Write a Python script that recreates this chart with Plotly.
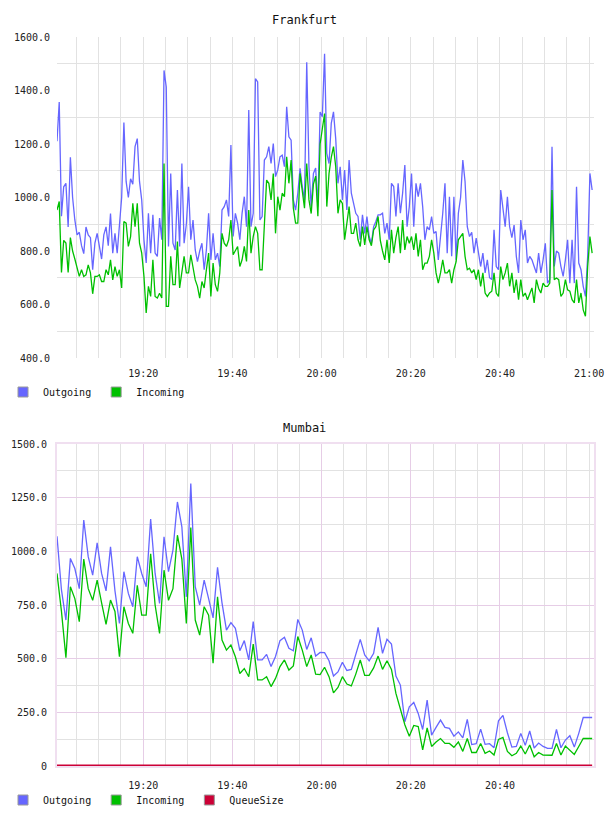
import pandas as pd
import plotly.graph_objects as go

# ---------------- Frankfurt (30 s samples from 19:00:40) ----------------
fr_outgoing = [
    1210, 1357, 930, 1040, 1053, 890, 1150, 1000, 916, 860,
    870, 820, 790, 890, 860, 850, 730, 830, 866, 820,
    770, 860, 890, 820, 940, 792, 866, 792, 900, 1000,
    1280, 1060, 1000, 1070, 1050, 1190, 1220, 1060, 990, 842,
    755, 941, 792, 935, 792, 780, 923, 842, 1475, 1413,
    817, 1090, 829, 804, 1028, 817, 1127, 829, 900, 1040,
    842, 916, 804,
    760, 800, 829, 730, 804, 941, 767, 866, 767, 792,
    742, 953, 966, 991, 929, 1196, 854, 941, 904, 842,
    941, 1003, 891, 1327, 891, 941, 1444, 1432, 916, 929,
    1140, 1152, 1190, 1127, 1202, 1078, 1103, 1152, 1158, 1115,
    1339, 1227, 1214, 991, 953, 1016, 1109, 1041, 991, 1506,
    1115, 966, 1090, 1110, 966, 1320, 1302, 1537, 1165, 1127,
    1277, 1320, 1220, 1053, 1115, 991, 1103, 953, 1140, 1016,
    978, 941, 929, 842, 935, 866, 929, 854, 829, 891,
    910, 935, 935, 941, 866, 904, 842, 1053, 1041, 929,
    1053, 941, 1016, 1121, 891, 966, 1090, 891, 1053, 1003,
    1053, 966, 842, 891, 879, 929, 866, 873, 767, 842,
    941, 1053, 792, 1003, 780, 1003, 767, 941, 1000, 1140,
    1060,
    891, 854, 870, 792, 848, 790, 742, 792, 718, 767,
    700, 693, 879, 742, 730, 1028, 953, 891, 1003, 891,
    850, 897, 780, 718, 916, 842, 879, 755, 780, 767,
    742, 718, 792, 718, 767, 829, 680, 693, 1190, 742,
    800, 792, 742, 705, 767, 842, 680, 842, 680, 1040,
    755, 730, 668, 630, 780, 1090, 1028,
]
fr_incoming = [
    953, 985, 720, 840, 830, 720, 850, 800, 770, 742,
    705, 730, 705, 711, 748, 718, 640, 705, 705, 711,
    686, 686, 730, 711, 767, 692, 742, 705, 730, 662,
    910, 904, 817, 854, 978, 891, 978, 829, 792, 705,
    568, 668, 630, 767, 630, 624, 642, 624, 1127, 593,
    593, 780, 674, 674, 835, 662, 730, 780, 718, 718,
    786, 740, 692,
    668, 624, 686, 662, 730, 792, 630, 755, 674, 649,
    718, 866, 829, 817, 842, 916, 786, 804, 817, 742,
    767, 817, 761, 953, 792, 854, 891, 866, 730, 730,
    879, 1065, 1053, 991, 1090, 866, 1003, 953, 1016, 1003,
    1152, 1053, 1140, 960, 904, 904, 1090, 1016, 960, 1127,
    991, 940, 1050, 1080, 930, 1200, 1252, 1314, 966, 1090,
    1150, 1190, 1115, 941, 991, 978, 842, 900, 966, 866,
    866, 904, 842, 817, 891, 823, 891, 842, 820, 879,
    891, 929, 840, 800, 767, 842, 755, 879, 792, 850,
    891, 792, 916, 804, 854, 829, 854, 804, 866, 780,
    842, 730, 755, 755, 780, 842, 792, 718, 680, 718,
    767, 718, 718, 730, 680, 730, 760, 842, 855, 866,
    780,
    730, 736, 718, 730, 693, 730, 668, 718, 643, 630,
    643, 650, 718, 643, 630, 742, 693, 718, 755, 668,
    718, 643, 693, 618, 693, 630, 643, 618, 643, 662,
    606, 693, 660, 643, 680, 668, 668, 680, 1028, 693,
    699, 693, 630, 643, 693, 655, 650, 618, 606, 693,
    606, 643, 580, 556, 742, 854, 792,
]

# ---------------- Mumbai (1 min samples from 19:00:40) ----------------
mu_outgoing = [
    1070, 820, 680, 967, 920, 826, 1146, 975, 889, 1039,
    897, 816, 1021, 816, 664, 905, 804, 742, 975, 897,
    835, 1150, 897, 757, 1068, 905, 1006, 1230, 1114, 788,
    1316, 835, 750, 866, 780, 690, 925, 760, 633, 668,
    641, 537, 584, 494, 673, 494, 494, 520, 463, 510,
    584, 600, 548, 537, 683, 633, 543, 597, 512, 529,
    528, 490, 419, 438, 483, 445, 450, 517, 590, 517,
    490, 525, 646, 525, 590, 568, 419, 377, 206, 276,
    296, 245, 170, 307, 144, 180, 214, 180, 175, 139,
    159, 131, 217, 100, 104, 172, 101, 104, 85, 211,
    236, 155, 88, 91, 152, 96, 163, 84, 107, 91,
    82, 82, 170, 85, 121, 141, 88, 152, 226, 226, 226,
]
mu_incoming = [
    897, 720, 505, 835, 780, 672, 964, 826, 772, 866,
    760, 660, 773, 720, 509, 742, 664, 618, 842, 703,
    703, 989, 750, 618, 912, 772, 826, 1075, 964, 664,
    1111, 680, 610, 742, 703, 479, 788, 587, 540, 564,
    509, 431, 454, 416, 568, 401, 401, 416, 370, 408,
    463, 494, 447, 466, 603, 540, 463, 517, 428, 426,
    460, 416, 341, 366, 416, 382, 373, 428, 494, 422,
    422, 457, 512, 450, 490, 450, 338, 261, 192, 139,
    189, 184, 75, 177, 91, 112, 128, 105, 105, 87,
    112, 68, 128, 63, 63, 105, 59, 70, 51, 124,
    133, 68, 48, 59, 93, 56, 98, 43, 63, 51,
    50, 50, 105, 51, 93, 75, 54, 91, 128, 128, 128,
]
mu_queuesize = [
    4, 3, 3, 4, 3, 3, 3, 4, 3, 3,
    3, 4, 3, 3, 3, 3, 4, 3, 3, 3,
    4, 3, 3, 3, 3, 3, 4, 3, 3, 4,
    3, 3, 3, 4, 3, 3, 3, 3, 5, 3,
    3, 3, 3, 4, 3, 3, 3, 3, 3, 4,
    3, 3, 3, 3, 3, 4, 3, 3, 3, 3,
    3, 3, 3, 3, 3, 4, 3, 3, 3, 4,
    3, 3, 3, 3, 3, 4, 3, 3, 3, 3,
    3, 3, 3, 3, 3, 4, 3, 3, 3, 3,
    3, 3, 3, 3, 4, 3, 3, 3, 3, 3,
    3, 3, 3, 3, 3, 3, 3, 3, 3, 3,
    3, 3, 3, 3, 3, 3, 3, 3, 3, 3, 3,
]

fr_ticks = ["19:20", "19:40", "20:00", "20:20", "20:40", "21:00"]
mu_ticks = ["19:20", "19:40", "20:00", "20:20", "20:40"]
fr_yticks = [400, 600, 800, 1000, 1200, 1400, 1600]
mu_yticks = [0, 250, 500, 750, 1000, 1250, 1500]

DAY = "2024-01-01 "
fr_time = pd.date_range(DAY + "19:00:40", periods=len(fr_outgoing), freq="30s")
mu_time = pd.date_range(DAY + "19:00:40", periods=len(mu_outgoing), freq="60s")
x_range = [DAY + "19:00:40", DAY + "21:01:05"]

C_OUT = "#6666ff"
C_IN = "#00c000"
C_Q = "#cc0036"
MONO = "DejaVu Sans Mono"
GRID = "#e2e2e2"
PINK = "#e6cde6"
W, H = 608, 816

fig = go.Figure()
fig.add_trace(go.Scatter(x=fr_time, y=fr_outgoing, mode="lines", name="Outgoing",
                         line=dict(color=C_OUT, width=1.3), showlegend=False,
                         xaxis="x", yaxis="y"))
fig.add_trace(go.Scatter(x=fr_time, y=fr_incoming, mode="lines", name="Incoming",
                         line=dict(color=C_IN, width=1.3), showlegend=False,
                         xaxis="x", yaxis="y"))
fig.add_trace(go.Scatter(x=mu_time, y=mu_outgoing, mode="lines", name="Outgoing",
                         line=dict(color=C_OUT, width=1.3), showlegend=False,
                         xaxis="x2", yaxis="y2"))
fig.add_trace(go.Scatter(x=mu_time, y=mu_incoming, mode="lines", name="Incoming",
                         line=dict(color=C_IN, width=1.3), showlegend=False,
                         xaxis="x2", yaxis="y2"))
fig.add_trace(go.Scatter(x=mu_time, y=mu_queuesize, mode="lines", name="QueueSize",
                         line=dict(color=C_Q, width=1.5), showlegend=False,
                         xaxis="x2", yaxis="y2"))

# legend entries (square swatches)
for name, col, leg, xa, ya in [("Outgoing", C_OUT, "legend", "x", "y"),
                               ("Incoming", C_IN, "legend", "x", "y"),
                               ("Outgoing", C_OUT, "legend2", "x2", "y2"),
                               ("Incoming", C_IN, "legend2", "x2", "y2"),
                               ("QueueSize", C_Q, "legend2", "x2", "y2")]:
    fig.add_trace(go.Scatter(x=[None], y=[None], mode="markers", name=name,
                             marker=dict(symbol="square", size=10, color=col,
                                         line=dict(color="#9a9a9a", width=1)),
                             legend=leg, xaxis=xa, yaxis=ya, hoverinfo="skip"))

xdom = [57 / W, 594 / W]
tickfont = dict(family=MONO, size=10, color="#222")


def ydom(top, bottom):
    return [1 - bottom / H, 1 - top / H]


fig.update_layout(
    width=W, height=H,
    margin=dict(l=0, r=0, t=0, b=0, autoexpand=False),
    paper_bgcolor="white", plot_bgcolor="white",
    font=dict(family=MONO, size=10, color="#222"),
    xaxis=dict(domain=xdom, anchor="y", type="date", range=x_range,
               tickmode="array", tickvals=[DAY + t for t in fr_ticks], ticktext=fr_ticks,
               showgrid=True, gridcolor=GRID, gridwidth=1, zeroline=False,
               showline=False, ticks="", ticklabelstandoff=8, tickfont=tickfont,
               minor=dict(tick0=DAY + "19:00", dtick=300000, showgrid=True,
                          gridcolor=GRID, gridwidth=1)),
    yaxis=dict(domain=ydom(37, 358), anchor="x", range=[400, 1600],
               tickmode="array", tickvals=fr_yticks,
               ticktext=[f"{v:.1f}" for v in fr_yticks],
               showgrid=False, zeroline=False, showline=False, ticks="",
               ticklabelstandoff=6, tickfont=tickfont,
               minor=dict(tick0=500, dtick=200, showgrid=True, gridcolor=GRID,
                          gridwidth=1)),
    xaxis2=dict(domain=xdom, anchor="y2", type="date", range=x_range,
                tickmode="array", tickvals=[DAY + t for t in mu_ticks], ticktext=mu_ticks,
                showgrid=True, gridcolor=PINK, gridwidth=1, zeroline=False,
                showline=True, mirror=True, linecolor="#f0dff0", linewidth=2,
                ticks="", ticklabelstandoff=9, tickfont=tickfont,
                minor=dict(tick0=DAY + "19:00", dtick=300000, showgrid=True,
                           gridcolor=GRID, gridwidth=1)),
    yaxis2=dict(domain=ydom(444, 766), anchor="x2", range=[0, 1500],
                tickmode="array", tickvals=mu_yticks,
                ticktext=["0" if v == 0 else f"{v:.1f}" for v in mu_yticks],
                showgrid=True, gridcolor=PINK, gridwidth=1, zeroline=False,
                showline=True, mirror=True, linecolor="#f0dff0", linewidth=2,
                ticks="", ticklabelstandoff=6, tickfont=tickfont,
                minor=dict(tick0=125, dtick=250, showgrid=True, gridcolor=GRID,
                           gridwidth=1)),
    legend=dict(orientation="h", x=3 / W, xanchor="left", y=1 - 392 / H, yanchor="middle",
                font=dict(family=MONO, size=10, color="#111"), bgcolor="rgba(0,0,0,0)",
                itemclick=False, itemdoubleclick=False),
    legend2=dict(orientation="h", x=3 / W, xanchor="left", y=1 - 800 / H, yanchor="middle",
                 font=dict(family=MONO, size=10, color="#111"), bgcolor="rgba(0,0,0,0)",
                 itemclick=False, itemdoubleclick=False),
    annotations=[
        dict(text="Frankfurt", x=0.5, y=1 - 20 / H, xref="paper", yref="paper",
             showarrow=False, xanchor="center", yanchor="middle",
             font=dict(family=MONO, size=12, color="#111")),
        dict(text="Mumbai", x=0.5, y=1 - 428 / H, xref="paper", yref="paper",
             showarrow=False, xanchor="center", yanchor="middle",
             font=dict(family=MONO, size=12, color="#111")),
    ],
)

fig.write_html("out.html")
